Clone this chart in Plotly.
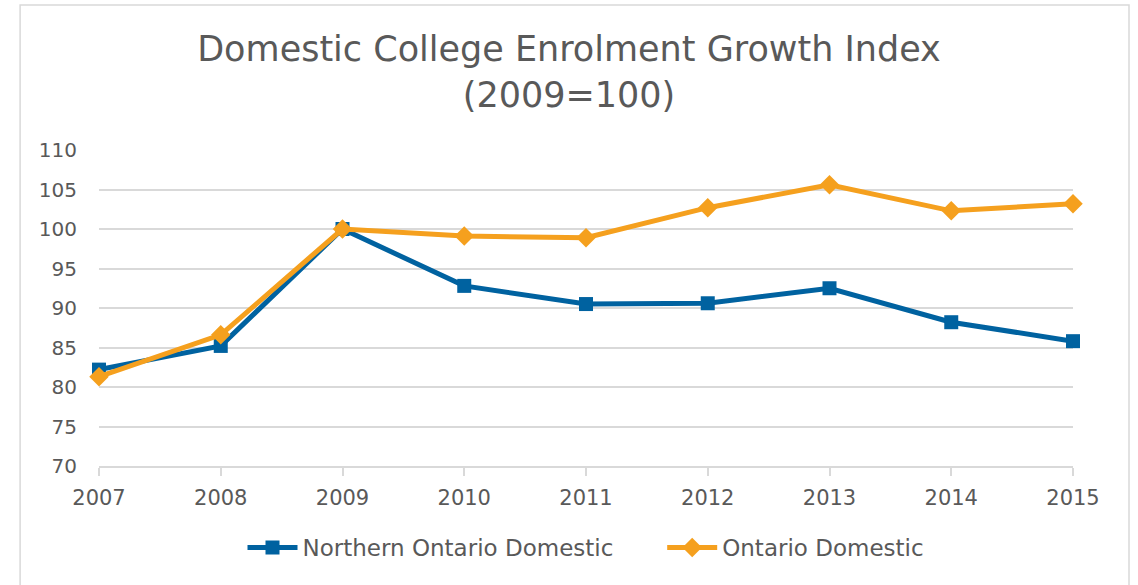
import plotly.graph_objects as go

years = [2007, 2008, 2009, 2010, 2011, 2012, 2013, 2014, 2015]
northern_ontario = [82.2, 85.2, 100.0, 92.8, 90.5, 90.6, 92.5, 88.2, 85.8]
ontario = [81.3, 86.6, 100.0, 99.1, 98.9, 102.7, 105.6, 102.3, 103.2]
y_ticks = [70, 75, 80, 85, 90, 95, 100, 105, 110]

FONT = "'DejaVu Sans', sans-serif"
TEXT = "#595959"
GRID = "#d9d9d9"

fig = go.Figure()
fig.add_trace(go.Scatter(
    x=years, y=northern_ontario,
    name="Northern Ontario Domestic" + "\u00a0" * 6,
    mode="lines+markers", cliponaxis=False,
    line=dict(color="#0062a0", width=5),
    marker=dict(symbol="square", size=14, color="#0062a0"),
))
fig.add_trace(go.Scatter(
    x=years, y=ontario, name="Ontario Domestic",
    mode="lines+markers", cliponaxis=False,
    line=dict(color="#f5a01e", width=5),
    marker=dict(symbol="diamond", size=15, color="#f5a01e"),
))

fig.update_layout(
    width=1138, height=585,
    margin=dict(l=99, r=65, t=150, b=119),
    paper_bgcolor="white", plot_bgcolor="white",
    font=dict(family=FONT, color=TEXT, size=20),
    title=dict(
        text="Domestic College Enrolment Growth Index<br>(2009=100)",
        x=0.5, xanchor="center", y=0.895, yanchor="top",
        font=dict(size=35, color=TEXT, family=FONT),
    ),
    xaxis=dict(
        range=[2007, 2015], tickvals=years, showgrid=False, zeroline=False,
        showline=True, linecolor=GRID, linewidth=1.5,
        ticks="outside", ticklen=8, tickcolor=GRID, tickwidth=1.5,
        ticklabelstandoff=4, tickfont=dict(size=21, color=TEXT),
    ),
    yaxis=dict(
        range=[70, 110], tickvals=y_ticks, showgrid=True, gridcolor=GRID,
        gridwidth=1.5, zeroline=False, showline=False, ticks="",
        ticklabelstandoff=21, tickfont=dict(size=20, color=TEXT),
    ),
    legend=dict(
        orientation="h", x=0.5, xanchor="center", y=-0.19, yanchor="top",
        font=dict(size=23, color=TEXT), tracegroupgap=0, itemwidth=50,
    ),
    showlegend=True,
    shapes=[dict(
        type="rect", xref="paper", yref="paper",
        x0=-0.081, x1=1.0575, y0=-0.45, y1=1.459,
        line=dict(color="#d9d9d9", width=1.5), layer="below",
    )],
)

fig.write_html("out.html")
